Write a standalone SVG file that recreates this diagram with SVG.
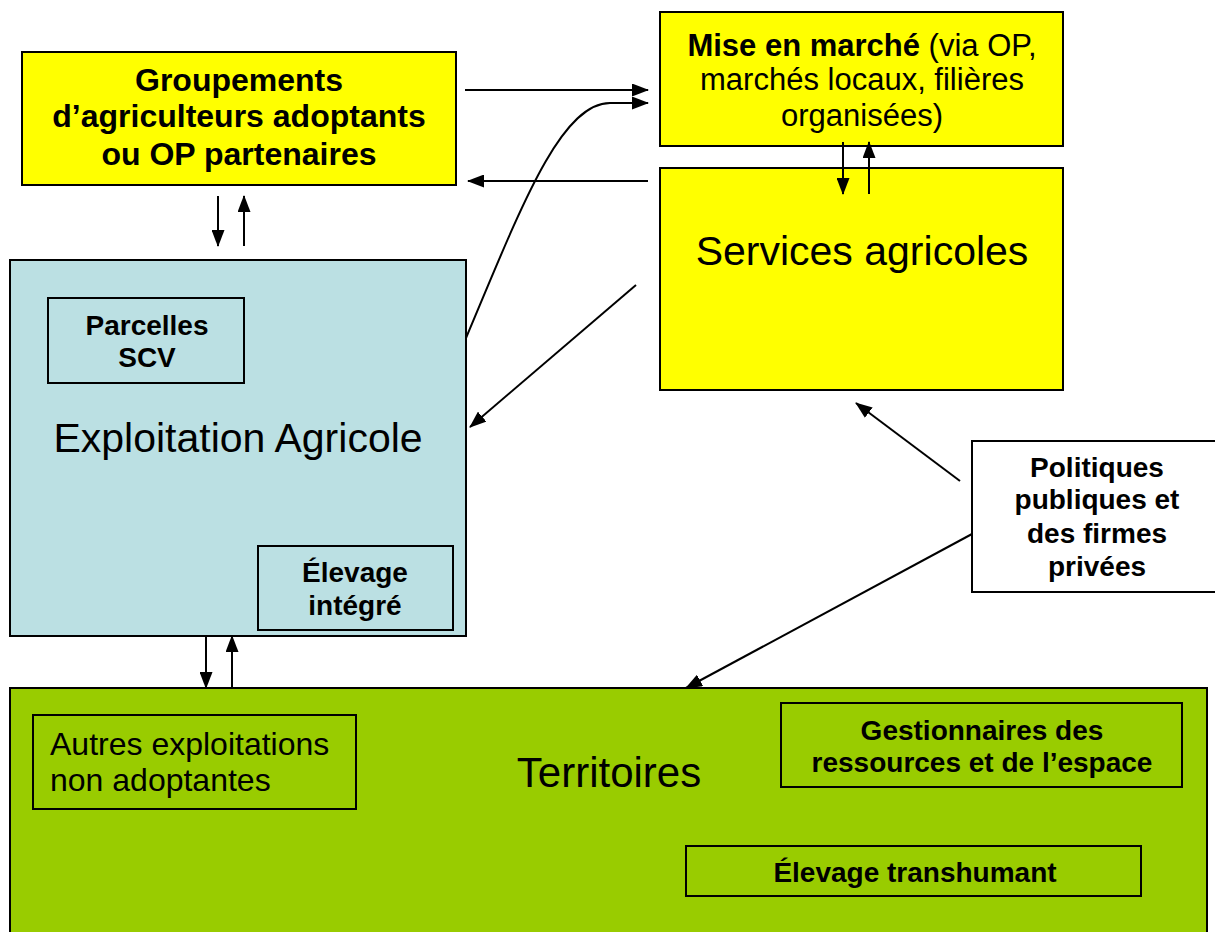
<svg xmlns="http://www.w3.org/2000/svg" width="1215" height="932" viewBox="0 0 1215 932">
<defs>
<marker id="ah" viewBox="0 0 17 13" refX="16" refY="6.5" markerWidth="17" markerHeight="13" markerUnits="userSpaceOnUse" orient="auto">
<path d="M0,0 L17,6.5 L0,13 Z" fill="#000"/>
</marker>
<style>
.box{stroke:#000;stroke-width:2}
.y{fill:#FFFF00}
.b{fill:#BBE0E3}
.g{fill:#99CC00}
.w{fill:#FFFFFF}
.t{font-family:"Liberation Sans",Arial,sans-serif;fill:#000;text-anchor:middle}
.l{text-anchor:start}
.bold{font-weight:bold}
.c{fill:none;stroke:#000;stroke-width:2;marker-end:url(#ah)}
</style>
</defs>
<rect width="1215" height="932" fill="#fff"/>

<g id="territoires">
<rect class="box g" x="10" y="688" width="1197" height="260"/>
<text class="t" x="609" y="787" font-size="42">Territoires</text>
</g>
<g id="autres">
<rect class="box g" x="33" y="715" width="323" height="94"/>
<text class="t l" x="50" y="755" font-size="32">Autres exploitations</text>
<text class="t l" x="50" y="791" font-size="32">non adoptantes</text>
</g>
<g id="gestionnaires">
<rect class="box g" x="781" y="703" width="401" height="84"/>
<text class="t bold" x="982" y="740" font-size="28">Gestionnaires des</text>
<text class="t bold" x="982" y="772" font-size="28">ressources et de l’espace</text>
</g>
<g id="transhumant">
<rect class="box g" x="686" y="846" width="455" height="50"/>
<text class="t bold" x="915" y="882" font-size="28">Élevage transhumant</text>
</g>

<g id="exploitation">
<rect class="box b" x="10" y="260" width="456" height="376"/>
<text class="t" x="238" y="452" font-size="41">Exploitation Agricole</text>
</g>
<g id="parcelles">
<rect class="box b" x="48" y="298" width="196" height="85"/>
<text class="t bold" x="147" y="335" font-size="28">Parcelles</text>
<text class="t bold" x="147" y="367" font-size="28">SCV</text>
</g>
<g id="elevage-integre">
<rect class="box b" x="258" y="546" width="195" height="84"/>
<text class="t bold" x="355" y="582" font-size="28">Élevage</text>
<text class="t bold" x="355" y="615" font-size="28">intégré</text>
</g>

<g id="groupements">
<rect class="box y" x="22" y="52" width="434" height="133"/>
<text class="t bold" x="239" y="91" font-size="32">Groupements</text>
<text class="t bold" x="239" y="127" font-size="32">d’agriculteurs adoptants</text>
<text class="t bold" x="239" y="165" font-size="32">ou OP partenaires</text>
</g>
<g id="mise-en-marche">
<rect class="box y" x="660" y="12" width="403" height="134"/>
<text class="t" x="862" y="56" font-size="31"><tspan font-weight="bold">Mise en marché</tspan> (via OP,</text>
<text class="t" x="862" y="90" font-size="31">marchés locaux, filières</text>
<text class="t" x="862" y="126" font-size="31">organisées)</text>
</g>
<g id="services">
<rect class="box y" x="660" y="168" width="403" height="222"/>
<text class="t" x="862" y="265" font-size="41">Services agricoles</text>
</g>
<g id="politiques">
<rect class="box w" x="972" y="441" width="250" height="151"/>
<text class="t bold" x="1097" y="477" font-size="28">Politiques</text>
<text class="t bold" x="1097" y="509" font-size="28">publiques et</text>
<text class="t bold" x="1097" y="543" font-size="28">des firmes</text>
<text class="t bold" x="1097" y="576" font-size="28">privées</text>
</g>

<g id="connectors">
<path class="c" d="M465,90 L648,90"/>
<path class="c" d="M466,338 C520,210 560,103 610,103 L648,103"/>
<path class="c" d="M648,181 L468,181"/>
<path class="c" d="M636,285 L470,427"/>
<path class="c" d="M218,196 L218,246"/>
<path class="c" d="M244,246 L244,196"/>
<path class="c" d="M843,142 L843,194"/>
<path class="c" d="M869,194 L869,142"/>
<path class="c" d="M206,636 L206,688"/>
<path class="c" d="M232,688 L232,636"/>
<path class="c" d="M960,481 L856,403"/>
<path class="c" d="M972,534 L686,688"/>
</g>
</svg>
